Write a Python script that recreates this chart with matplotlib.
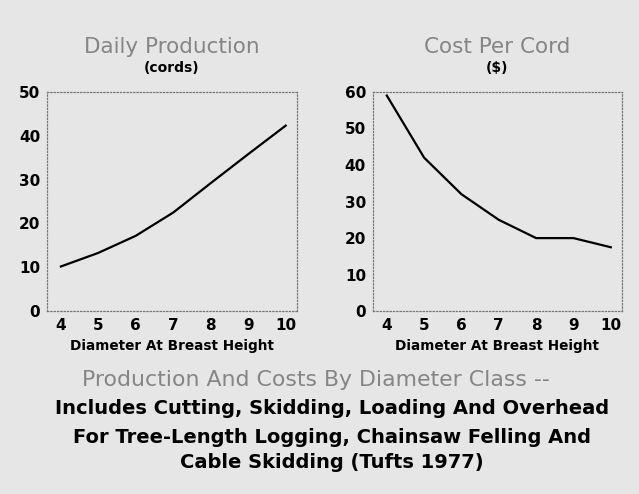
import matplotlib
matplotlib.use("Agg")
import matplotlib.pyplot as plt

plt.rcParams['font.family'] = ['DejaVu Sans']

# Diameter classes (inches)
diameter = [4, 5, 6, 7, 8, 9, 10]
# Daily production (cords)
production = [10.2, 13.3, 17.2, 22.5, 29.2, 35.8, 42.3]
# Cost per cord ($)
cost = [59, 42, 32, 25, 20, 20, 17.5]

bg = '#e6e6e6'
grey = '#858585'
fig = plt.figure(figsize=(6.39, 4.94), dpi=100, facecolor=bg)

def style_axes(ax, vals, ymax, yticks):
    ax.set_facecolor(bg)
    ax.plot(diameter, vals, color='black', linewidth=1.6)
    ax.set_xlim(3.63, 10.3)
    ax.set_ylim(0, ymax)
    ax.set_xticks(diameter)
    ax.set_yticks(yticks)
    ax.tick_params(length=0, labelsize=11, pad=5)
    for lab in ax.get_xticklabels() + ax.get_yticklabels():
        lab.set_fontweight('bold')
    for s in ax.spines.values():
        s.set_linestyle(':')
        s.set_color('#777777')
        s.set_linewidth(0.9)
    ax.set_xlabel('Diameter At Breast Height', fontsize=9.8,
                  fontweight='bold', labelpad=4)

ax1 = fig.add_axes([0.0736, 0.370, 0.391, 0.444])
style_axes(ax1, production, 50, [0, 10, 20, 30, 40, 50])
ax1.text(0.5, 1.205, 'Daily Production', transform=ax1.transAxes,
         ha='center', va='center', fontsize=15.5, color=grey)
ax1.text(0.5, 1.11, '(cords)', transform=ax1.transAxes,
         ha='center', va='center', fontsize=10, fontweight='bold')

ax2 = fig.add_axes([0.5837, 0.370, 0.3897, 0.444])
style_axes(ax2, cost, 60, [0, 10, 20, 30, 40, 50, 60])
ax2.text(0.5, 1.205, 'Cost Per Cord', transform=ax2.transAxes,
         ha='center', va='center', fontsize=15.5, color=grey)
ax2.text(0.5, 1.11, '($)', transform=ax2.transAxes,
         ha='center', va='center', fontsize=10, fontweight='bold')

fig.text(0.495, 0.231, 'Production And Costs By Diameter Class --',
         ha='center', va='center', fontsize=15.8, color=grey)
caption = ['Includes Cutting, Skidding, Loading And Overhead',
           'For Tree-Length Logging, Chainsaw Felling And',
           'Cable Skidding (Tufts 1977)']
for txt, y in zip(caption, [0.174, 0.115, 0.063]):
    fig.text(0.52, y, txt, ha='center', va='center', fontsize=14,
             fontweight='bold')

fig.savefig('out.png', dpi=100, facecolor=bg)
